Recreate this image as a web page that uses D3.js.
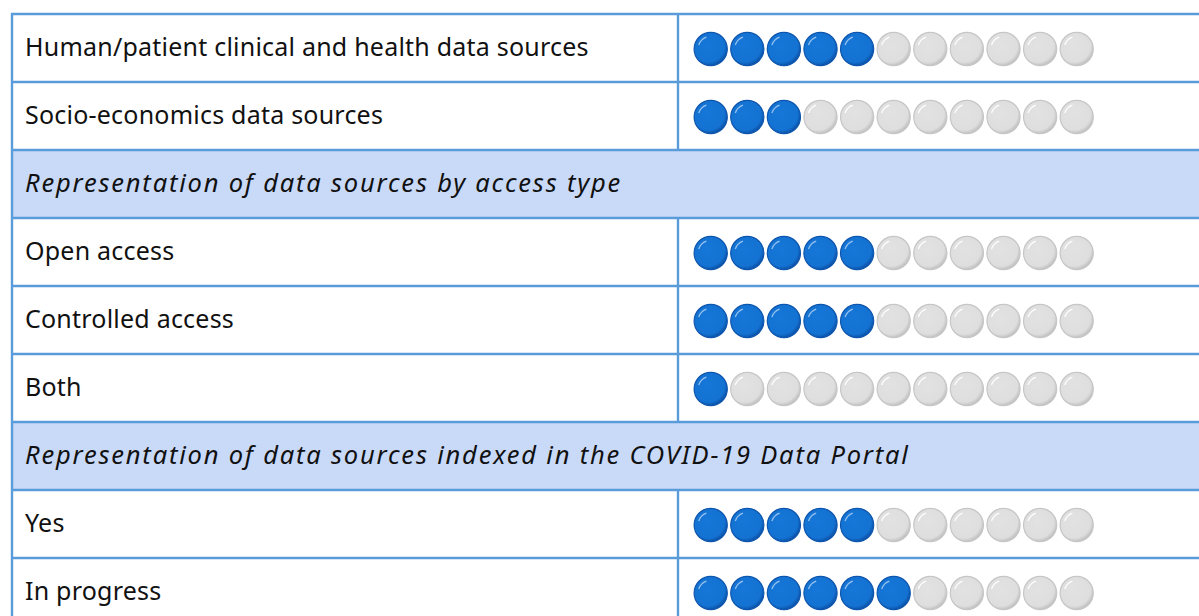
<!DOCTYPE html>
<html><head><meta charset="utf-8">
<script src="https://cdn.jsdelivr.net/npm/d3@7"></script>
<style>body{margin:0;background:#fff;}svg{display:block;}</style>
</head><body><svg id="c" width="1199" height="616"></svg>
<script>
const rowLabels = [
  "Human/patient clinical and health data sources",
  "Socio-economics data sources",
  "Representation of data sources by access type",
  "Open access",
  "Controlled access",
  "Both",
  "Representation of data sources indexed in the COVID-19 Data Portal",
  "Yes",
  "In progress"
];
const rowTypes = ["item","item","header","item","item","item","header","item","item"];
const rowScores = [5, 3, null, 5, 5, 1, null, 5, 6];
const dotSlots = d3.range(11);

const W = 1199, H = 616;
const svg = d3.select("#c");
const defs = svg.append("defs");
function grad(id, c0, c1, c2){
  const g = defs.append("radialGradient").attr("id", id).attr("cx","42%").attr("cy","40%").attr("r","62%");
  g.append("stop").attr("offset","0%").attr("stop-color",c0);
  g.append("stop").attr("offset","80%").attr("stop-color",c1);
  g.append("stop").attr("offset","100%").attr("stop-color",c2);
}
grad("gBlue", "#1677d8", "#1372d2", "#0c4ea3");
grad("gGray", "#e2e2e2", "#dedede", "#bdbdbd");

const left = 12, divX = 678, right = 1230;
const y = d3.scaleBand().domain(d3.range(rowLabels.length)).range([14, 14 + 68*rowLabels.length]).padding(0);
const x = d3.scaleLinear().domain([0, 10]).range([710.7, 1076.7]);
const r = 16.6;
const border = "#5a9bd9";

const rows = svg.append("g").selectAll("g").data(rowLabels).join("g")
  .attr("transform", (d,i)=>`translate(0,${y(i)})`);

rows.append("rect").attr("x", left).attr("y", 0).attr("width", right-left).attr("height", y.bandwidth())
  .attr("fill", (d,i)=> rowTypes[i]==="header" ? "#c9daf8" : "#ffffff");

rows.append("text").attr("x", 25).attr("y", y.bandwidth()/2 - 0.5).attr("dy","0.35em")
  .attr("font-family","'Noto Sans', 'Open Sans', sans-serif")
  .attr("font-size",(d,i)=> rowTypes[i]==="header" ? 25.5 : 25)
  .attr("font-style",(d,i)=> rowTypes[i]==="header" ? "italic" : "normal")
  .attr("letter-spacing",(d,i)=> rowTypes[i]==="header" ? 1.8 : 0.22)
  .attr("fill","#111").text(d=>d);

// dots
rows.each(function(d,i){
  if (rowScores[i] === null) return;
  const g = d3.select(this).append("g").attr("transform", `translate(0,${y.bandwidth()/2 + 1})`);
  const dots = g.selectAll("g.dot").data(dotSlots).join("g").attr("class","dot")
    .attr("transform", s=>`translate(${x(s)},0)`);
  dots.append("circle").attr("r", r)
    .attr("fill", s=> s < rowScores[i] ? "url(#gBlue)" : "url(#gGray)")
    .attr("stroke", s=> s < rowScores[i] ? "#0d55ad" : "#c6c6c6").attr("stroke-width", 1.2);
  dots.append("path")
    .attr("d", d3.arc()({innerRadius: r*0.72, outerRadius: r*0.80, startAngle: -1.25, endAngle: -0.35}))
    .attr("fill", s=> s < rowScores[i] ? "rgba(255,255,255,0.55)" : "rgba(255,255,255,0.95)");
});

// grid lines
const lines = svg.append("g").attr("stroke", border).attr("stroke-width", 2.4);
const hy = d3.range(rowLabels.length+1).map(i => i < rowLabels.length ? y(i) : y(rowLabels.length-1)+y.bandwidth());
lines.selectAll("line.h").data(hy).join("line").attr("class","h")
  .attr("x1", left-1).attr("x2", right).attr("y1", d=>d).attr("y2", d=>d);
lines.append("line").attr("x1", left).attr("x2", left).attr("y1", 13).attr("y2", H+20);
rowLabels.forEach((d,i)=>{
  if (rowTypes[i]==="item") lines.append("line").attr("x1", divX).attr("x2", divX).attr("y1", y(i)).attr("y2", y(i)+y.bandwidth());
});
</script></body></html>
